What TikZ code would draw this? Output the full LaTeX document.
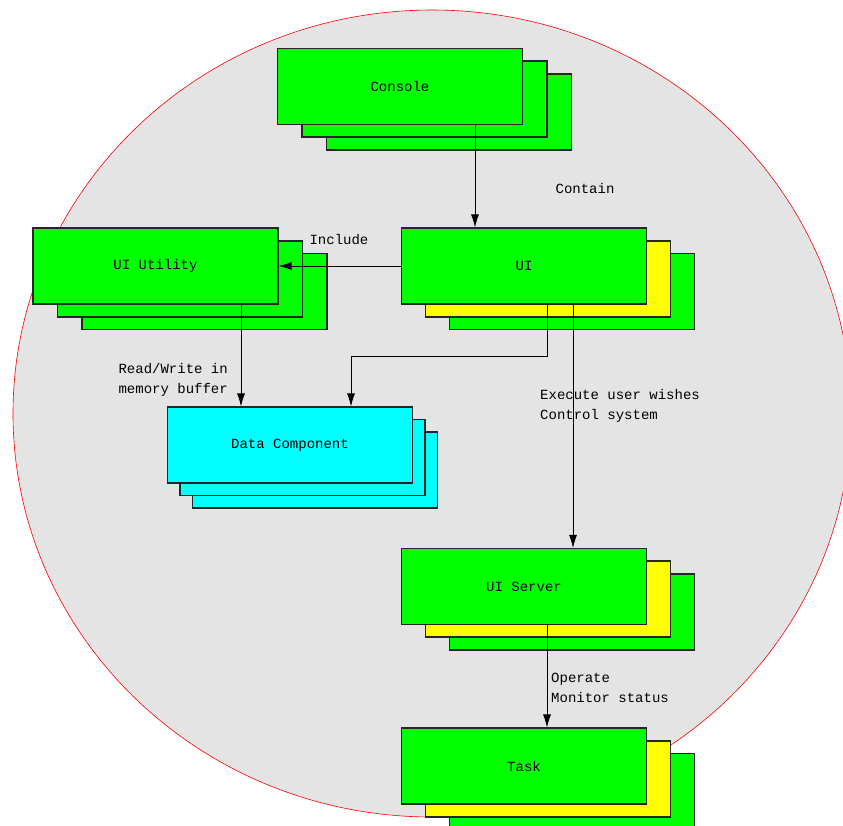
\documentclass[tikz,border=0pt]{standalone}
\usepackage{fontspec}
\setmonofont{Liberation Mono}
\usetikzlibrary{arrows.meta,shadows}
\definecolor{bggray}{HTML}{E4E4E4}
\definecolor{boxgreen}{HTML}{00FF00}
\definecolor{boxyellow}{HTML}{FFFF00}
\definecolor{boxcyan}{HTML}{00FFFF}
\begin{document}
\begin{tikzpicture}[x=1pt,y=-1pt,font=\ttfamily\fontsize{14}{20.5}\selectfont,
  comp/.style={draw=black!85,line width=1.1pt,minimum width=245pt,minimum height=76pt,inner sep=0pt},
  back/.style={draw=black!85,line width=1.8pt},
  greenstack/.style={comp,fill=boxgreen,general shadow={shadow xshift=49pt,shadow yshift=-25.4pt,fill=boxgreen,back},general shadow={shadow xshift=24.5pt,shadow yshift=-12.7pt,fill=boxgreen,back}},
  yellowstack/.style={comp,fill=boxgreen,general shadow={shadow xshift=48pt,shadow yshift=-25.4pt,fill=boxgreen,back},general shadow={shadow xshift=24pt,shadow yshift=-12.7pt,fill=boxyellow,back}},
  cyanstack/.style={comp,fill=boxcyan,general shadow={shadow xshift=25pt,shadow yshift=-25pt,fill=boxcyan,back},general shadow={shadow xshift=12.5pt,shadow yshift=-12.5pt,fill=boxcyan,back}},
  arr/.style={-{Latex[length=13pt,width=8pt]},line width=0.8pt},
  lbl/.style={inner sep=0pt}]
\useasboundingbox (0,0) rectangle (843,825);
\draw[red,fill=bggray,line width=0.6pt] (432,413.5) ellipse [x radius=419,y radius=403.5];
\node[greenstack] (console) at (400,86.5) {Console};
\node[greenstack] (uiutil) at (155.5,266) {UI Utility};
\node[yellowstack] (ui) at (524,266) {UI};
\node[cyanstack] (data) at (290,445) {Data Component};
\node[yellowstack] (uiserver) at (524,586.5) {UI Server};
\node[yellowstack] (task) at (524,766) {Task};
\coordinate (bend) at (351,356);
\draw[arr] ([xshift=75pt]console.south) -- ([xshift=-49pt]ui.north);
\draw[arr] (ui.west) -- (uiutil.east);
\draw[arr] ([xshift=85.5pt]uiutil.south) -- ([xshift=-49pt]data.north);
\draw[arr] ([xshift=23pt]ui.south) |- (bend) -- ([xshift=61pt]data.north);
\draw[arr] ([xshift=49pt]ui.south) -- ([xshift=49pt]uiserver.north);
\draw[arr] ([xshift=23pt]uiserver.south) -- ([xshift=23pt]task.north);
\node[lbl] (contain) at (585,188) {Contain};
\node[lbl] (include) at (339,240) {Include};
\node[lbl,anchor=east,align=right] (rw) at (228,380) {Read/Write in\\memory buffer};
\node[lbl,anchor=west,align=left] (exec) at (540,406) {Execute user wishes\\Control system};
\node[lbl,anchor=west,align=left] (operate) at (551,688) {Operate\\Monitor status};
\end{tikzpicture}
\end{document}
